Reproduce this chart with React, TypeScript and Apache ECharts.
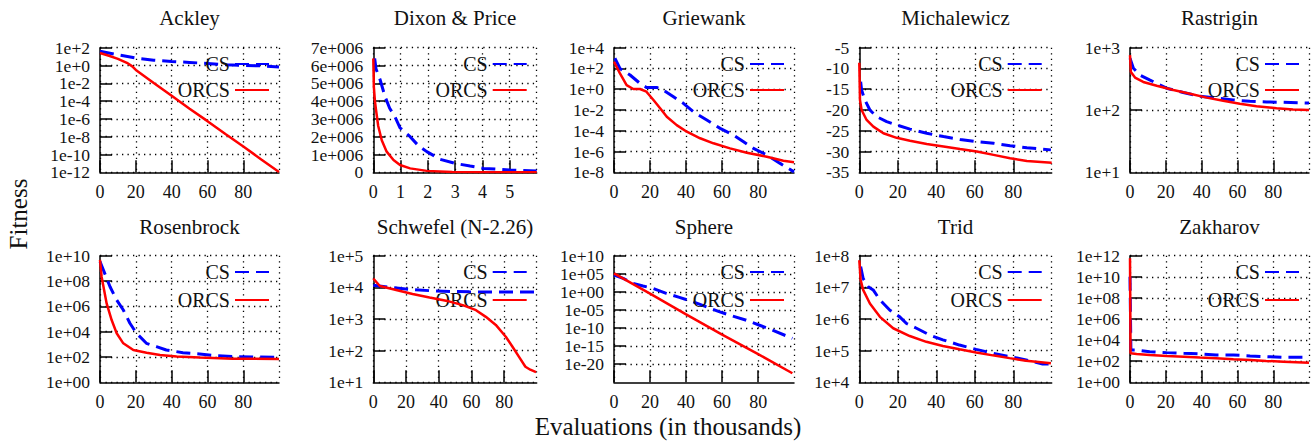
import React, { useEffect, useRef } from 'react';
import * as echarts from 'echarts';

const W = 1315;
const H = 441;
const FONT = '"Liberation Serif", "Times New Roman", serif';

const titles = ['Ackley', 'Dixon & Price', 'Griewank', 'Michalewicz', 'Rastrigin', 'Rosenbrock', 'Schwefel (N-2.26)', 'Sphere', 'Trid', 'Zakharov'];
const seriesNames = ['CS', 'ORCS'];
const xAxisTitle = 'Evaluations (in thousands)';
const yAxisTitle = 'Fitness';

// ---- series values: [evaluations (thousands), fitness] ----
const ackleyCS = [[0, 40], [10, 16], [20, 7], [30, 4], [40, 2.8], [50, 2.2], [60, 1.7], [70, 1.25], [80, 1.05], [90, 0.9], [99.9, 0.7]];
const ackleyORCS = [[0, 25], [5, 12.6], [10, 5.6], [15, 2.0], [18, 0.8], [20, 0.32], [30, 1.1e-2], [40, 4e-4], [50, 1.4e-5], [60, 5.6e-7], [70, 2e-8], [80, 8e-10], [90, 2.8e-11], [99.9, 1.1e-12]];

const dixonCS = [[0.05, 6.4e6], [0.1, 5.8e6], [0.25, 5.2e6], [0.43, 4.25e6], [0.6, 3.6e6], [0.8, 3.1e6], [0.98, 2.5e6], [1.35, 2.0e6], [1.65, 1.5e6], [1.96, 1.16e6], [2.45, 0.73e6], [3.0, 0.5e6], [3.55, 0.35e6], [4.04, 0.22e6], [5.0, 0.13e6], [5.99, 0.08e6]];
const dixonORCS = [[0, 6.4e6], [0.02, 4.8e6], [0.06, 4.0e6], [0.1, 3.5e6], [0.18, 2.6e6], [0.31, 1.8e6], [0.49, 1.16e6], [0.74, 0.69e6], [0.98, 0.41e6], [1.35, 0.22e6], [1.96, 0.08e6], [2.9, 0.02e6], [4.0, 0.005e6], [5.99, 0.001e6]];

const griewankCS = [[0.5, 955], [3.3, 100], [8.9, 23.4], [14.4, 3.7], [18, 1.5], [23.7, 1.5], [27.4, 0.83], [33, 0.19], [38.5, 0.044], [44, 6.9e-3], [51.5, 1.07e-3], [58.9, 1.7e-4], [66.3, 3.9e-5], [71.9, 8.7e-6], [77.4, 2e-6], [84.8, 4.6e-7], [92.2, 7.2e-8], [99.9, 1.1e-8]];
const griewankORCS = [[0, 447], [3.3, 34], [7, 2.5], [10.7, 1.05], [14.4, 1.05], [18, 0.58], [21.9, 0.091], [25.6, 0.0145], [29.3, 2.2e-3], [34.8, 3.5e-4], [40.4, 8.1e-5], [47.8, 1.9e-5], [55.2, 6.2e-6], [64.4, 2e-6], [73.7, 7.6e-7], [84.8, 3.2e-7], [94, 1.3e-7], [99.9, 9.1e-8]];

const michalewiczCS = [[0.7, -13.2], [1.2, -15.2], [2.9, -17.6], [5.5, -20], [9, -21.6], [14.2, -22.8], [19.4, -23.6], [26.3, -24.6], [35, -25.6], [43.7, -26.4], [52.3, -27.1], [61, -27.6], [69.7, -28], [78.3, -28.6], [87, -29.1], [99.5, -29.6]];
const michalewiczORCS = [[0, -8.6], [0.35, -17.6], [1.2, -20], [3.8, -22.4], [7.3, -24], [12.5, -25.6], [19.4, -26.7], [26.3, -27.4], [35, -28.2], [43.7, -28.8], [52.3, -29.4], [61, -30], [69.7, -30.8], [78.3, -31.6], [87, -32.3], [99.9, -32.7]];

const rastriginCS = [[0, 676], [1.9, 468], [5.6, 363], [11.2, 302], [20.4, 224], [29.7, 191], [39, 166], [48.3, 155], [57.6, 145], [66.9, 138], [76.2, 135], [85.5, 133], [99.9, 129]];
const rastriginORCS = [[0, 760], [0.5, 407], [2.8, 331], [7.4, 282], [14.9, 245], [24.2, 209], [33.5, 182], [42.8, 158], [52, 141], [61.3, 126], [70.6, 115], [81.8, 107], [91, 102], [99.9, 100]];

const rosenbrockCS = [[0, 3.4e9], [1.9, 7.4e8], [5.6, 3.5e7], [9.3, 3.2e6], [13, 5.1e5], [16.7, 4.6e4], [20.4, 7.4e3], [25.9, 1.2e3], [31.5, 660], [37, 355], [46.3, 219], [55.6, 174], [65, 126], [74, 107], [99.9, 93]];
const rosenbrockORCS = [[0, 4.6e9], [0.9, 2.2e8], [3.7, 1.7e6], [6.5, 8.3e4], [9.3, 7.4e3], [13, 1.2e3], [18.6, 355], [26, 219], [33.5, 145], [42.8, 107], [55.6, 89], [74, 74], [99.9, 69]];

const schwefelCS = [[0, 11700], [10, 10000], [22, 8700], [38.5, 7600], [58.7, 7200], [79, 7100], [99, 7100]];
const schwefelORCS = [[0, 19000], [4, 11000], [14, 8300], [24, 6200], [34.4, 4800], [44.5, 3800], [54.7, 2750], [62.8, 1900], [68.8, 1170], [74.9, 650], [81, 275], [85, 135], [89, 65], [93, 31], [96, 25], [99.5, 21]];

const sphereCS = [[0, 4.6e4], [5.1, 5.5e3], [10.6, 230], [16.1, 42], [21.7, 9.3], [29, 0.39], [36.3, 0.031], [43.7, 1.9e-3], [51, 8.1e-5], [58.3, 3.4e-6], [65.7, 2.1e-7], [73, 1.7e-8], [80.4, 6.9e-10], [87.7, 2.9e-11], [99, 1.4e-13]];
const sphereORCS = [[0, 1.3e5], [20, 0.32], [40, 6.3e-7], [60, 1.6e-12], [80, 6.3e-18], [99, 3.2e-23]];

const tridCS = [[0.7, 4.5e7], [2, 1.9e7], [4.6, 1.05e7], [7.2, 8.3e6], [10.7, 4e6], [15.9, 1.9e6], [21, 1.17e6], [24.5, 7.2e5], [29.7, 5.1e5], [36.6, 3.1e5], [43.4, 2.2e5], [52, 1.5e5], [60.7, 1.1e5], [69.3, 8.3e4], [78, 6.5e4], [86.6, 5.1e4], [95.2, 3.8e4], [99, 3.8e4]];
const tridORCS = [[0, 7.2e7], [0.7, 1.7e7], [2, 8.3e6], [5.5, 3.1e6], [10.7, 1.17e6], [17.6, 5.1e5], [26.2, 2.9e5], [34.8, 1.9e5], [43.4, 1.4e5], [52, 1.1e5], [60.7, 8.7e4], [69.3, 7.1e4], [78, 5.8e4], [86.6, 4.8e4], [99.5, 4e4]];

const zakharovCS = [[0, 1e10], [0.5, 1150], [3.7, 1150], [11, 800], [20.5, 650], [30, 560], [39, 490], [48, 390], [57.7, 390], [67, 316], [76, 270], [85.6, 234], [99.9, 234]];
const zakharovORCS = [[0, 5.6e11], [0.3, 560], [3.7, 490], [11, 390], [20.5, 316], [30, 270], [39, 219], [48, 190], [57.7, 151], [67, 132], [76, 105], [85.6, 91], [99.9, 72]];

const csData = [ackleyCS, dixonCS, griewankCS, michalewiczCS, rastriginCS, rosenbrockCS, schwefelCS, sphereCS, tridCS, zakharovCS];
const orcsData = [ackleyORCS, dixonORCS, griewankORCS, michalewiczORCS, rastriginORCS, rosenbrockORCS, schwefelORCS, sphereORCS, tridORCS, zakharovORCS];

// ---- axis ranges / ticks ----
const yLog = [true, false, true, false, true, true, true, true, true, true];
const yMin = [1e-12, 0, 1e-8, -35, 1e1, 1e0, 1e1, 0.9999e-25, 1e4, 1e0];
const yMax = [1e2, 7e6, 1e4, -5, 1e3, 1e10, 1e5, 1e10, 1e8, 1e12];
const yStep = [2, 1e6, 2, 5, 1, 2, 1, 5, 1, 2]; // decades for log axes
const yPadExp = [false, false, false, false, false, true, false, true, false, true];
const xMax = [99.9, 5.99, 99.9, 99.9, 99.9, 99.9, 99.9, 99.9, 99.9, 99.9];
const xStep = [20, 1, 20, 20, 20, 20, 20, 20, 20, 20];

// ---- layout (px) ----
const colLeft = [100, 373.3, 614, 859.3, 1130];
const colWidth = [179, 163.4, 180, 192.4, 179];
const rowTop = [47.7, 255.7];
const rowHeight = [124.6, 126.6];
const legendRowTop = [[54, 80], [262, 290]];
const titleY = [18.3, 226.7];

const BLUE = '#0000ff';
const RED = '#ff0000';
const INK = '#111111';

function logLabel(pad: boolean) {
  return (v: number) => {
    const e = Math.round(Math.log10(v));
    const a = Math.abs(e);
    return '1e' + (e < 0 ? '-' : '+') + (pad && a < 10 ? '0' + a : String(a));
  };
}

function isAxisMin(i: number, v: number) {
  if (yLog[i]) return Math.abs(Math.log10(v) - Math.log10(yMin[i])) < 0.05;
  return Math.abs(v - yMin[i]) < Math.abs(yStep[i]) * 0.01;
}

function buildOption() {
  const grid: any[] = [];
  const xAxis: any[] = [];
  const yAxis: any[] = [];
  const yAxisMinLabel: any[] = [];
  const series: any[] = [];
  const legend: any[] = [];
  const graphic: any[] = [];

  const splitLine = { show: true, lineStyle: { color: '#000', width: 1.3, type: [1.3, 4.2] } };
  const axisLine = { show: true, onZero: false, lineStyle: { color: '#000', width: 1.5 } };
  const axisTick = { show: true, inside: true, length: 12, interval: 0, lineStyle: { color: '#000', width: 1.5 } };
  const yLabelBase = { show: true, interval: 0, margin: 10, fontFamily: FONT, fontSize: 17.5, color: INK, hideOverlap: false };

  for (let i = 0; i < 10; i++) {
    const r = Math.floor(i / 5);
    const c = i % 5;
    grid.push({
      left: colLeft[c], top: rowTop[r], width: colWidth[c], height: rowHeight[r],
      containLabel: false, outerBoundsMode: 'none', show: false,
    });
    xAxis.push({
      type: 'value', gridIndex: i, min: 0, max: xMax[i], interval: xStep[i],
      axisLine, axisTick, splitLine,
      axisLabel: { show: true, interval: 0, margin: 11, fontFamily: FONT, fontSize: 18, color: INK, showMinLabel: true, showMaxLabel: false, hideOverlap: false },
    });
    let fmt: any;
    if (yLog[i]) fmt = logLabel(yPadExp[i]);
    else if (i === 1) fmt = (v: number) => (v === 0 ? '0' : Math.round(v / 1e6) + 'e+006');
    else fmt = (v: number) => String(v);
    const yBase = {
      type: yLog[i] ? 'log' : 'value', logBase: 10, gridIndex: i, position: 'left',
      min: yMin[i], max: yMax[i], interval: yStep[i],
    };
    // main axis: line, ticks, grid, all labels except the lowest
    yAxis.push({
      ...yBase, axisLine, axisTick, splitLine,
      axisLabel: { ...yLabelBase, formatter: fmt, showMinLabel: false, showMaxLabel: true },
    });
    // companion axis on the same scale carrying only the lowest label
    yAxisMinLabel.push({
      ...yBase, axisLine: { show: false, onZero: false }, axisTick: { show: false }, splitLine: { show: false },
      axisLabel: { ...yLabelBase, formatter: (v: number) => (isAxisMin(i, v) ? fmt(v) : ''), showMinLabel: true, showMaxLabel: false },
    });
    series.push({
      type: 'line', name: seriesNames[0], xAxisIndex: i, yAxisIndex: i, data: csData[i],
      symbol: 'none', showSymbol: false, clip: true, z: 3,
      lineStyle: { color: BLUE, width: 3, type: [14, 7] }, itemStyle: { color: BLUE },
    });
    series.push({
      type: 'line', name: seriesNames[1], xAxisIndex: i, yAxisIndex: i, data: orcsData[i],
      symbol: 'none', showSymbol: false, clip: true, z: 4,
      lineStyle: { color: RED, width: 2.5 }, itemStyle: { color: RED },
    });
    const plotRight = colLeft[c] + colWidth[c];
    for (let k = 0; k < 2; k++) {
      legend.push({
        data: [seriesNames[k]], orient: 'horizontal', align: 'right',
        right: W - (plotRight - 9), top: legendRowTop[r][k],
        itemWidth: 34, itemHeight: 14, padding: 0, selectedMode: false,
        itemStyle: { opacity: 0, borderWidth: 0 },
        textStyle: { fontFamily: FONT, fontSize: 20, color: INK, lineHeight: 20 },
      });
    }
    graphic.push({
      type: 'text', x: colLeft[c] + colWidth[c] / 2, y: titleY[r],
      style: {
        text: titles[i], font: '21px ' + FONT, fill: INK,
        textAlign: 'center', textVerticalAlign: 'middle', align: 'center', verticalAlign: 'middle',
      },
    });
  }
  graphic.push({
    type: 'text', x: 668, y: 426,
    style: {
      text: xAxisTitle, font: '25px ' + FONT, fill: INK,
      textAlign: 'center', textVerticalAlign: 'middle', align: 'center', verticalAlign: 'middle',
    },
  });
  graphic.push({
    type: 'text', x: 18, y: 214, rotation: Math.PI / 2,
    style: {
      text: yAxisTitle, font: '25px ' + FONT, fill: INK,
      textAlign: 'center', textVerticalAlign: 'middle', align: 'center', verticalAlign: 'middle',
    },
  });

  return {
    animation: false,
    backgroundColor: '#ffffff',
    textStyle: { fontFamily: FONT },
    grid, xAxis, yAxis: [...yAxis, ...yAxisMinLabel], series, legend, graphic,
  };
}

export default function App() {
  const ref = useRef<HTMLDivElement>(null);
  useEffect(() => {
    document.body.style.margin = '0';
    if (!ref.current) return;
    const chart = echarts.init(ref.current, undefined, { renderer: 'svg' });
    chart.setOption(buildOption() as any);
    return () => chart.dispose();
  }, []);
  return <div ref={ref} style={{ width: W, height: H }} />;
}
